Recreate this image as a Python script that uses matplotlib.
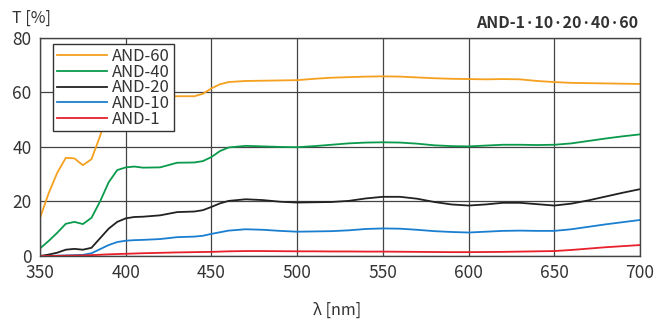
import matplotlib
matplotlib.use("Agg")
import matplotlib.pyplot as plt

plt.rcParams['font.family'] = ['Noto Sans CJK JP', 'DejaVu Sans']

wavelength = [350, 355, 360, 365, 370, 375, 380, 385, 390, 395, 400, 405, 410,
              420, 430, 440, 445, 450, 455, 460, 470, 480, 490, 500, 510, 520,
              530, 540, 550, 560, 570, 580, 590, 600, 610, 620, 630, 640, 650,
              660, 670, 680, 690, 700]

and60 = [14, 23, 30.5, 36, 35.8, 33.3, 35.5, 44, 54, 58, 58.8, 59, 58.8,
         58.7, 58.6, 58.6, 59.5, 61.5, 63, 63.8, 64.2, 64.3, 64.4, 64.5, 65, 65.4,
         65.6, 65.8, 65.9, 65.8, 65.5, 65.2, 65, 64.9, 64.8, 64.9, 64.8, 64.2, 63.8,
         63.5, 63.4, 63.3, 63.2, 63.1]
and40 = [2.8, 5.5, 8.5, 11.8, 12.5, 11.7, 14, 20, 27, 31.5, 32.5, 32.8, 32.4,
         32.5, 34.2, 34.3, 34.8, 36.3, 38.5, 39.8, 40.4, 40.2, 40, 39.9, 40.3, 40.8,
         41.3, 41.6, 41.7, 41.6, 41.2, 40.6, 40.3, 40.2, 40.5, 40.8, 40.8, 40.7, 40.8,
         41.3, 42.2, 43.1, 43.9, 44.6]
and20 = [0, 0.5, 1.2, 2.3, 2.6, 2.3, 3, 6.5, 10, 12.5, 13.8, 14.3, 14.4,
         14.9, 16.1, 16.3, 16.8, 18, 19.3, 20.2, 20.8, 20.5, 19.9, 19.6, 19.7, 19.8,
         20.2, 21.1, 21.7, 21.7, 21, 19.8, 18.9, 18.5, 18.9, 19.5, 19.5, 19, 18.5,
         19.2, 20.4, 21.8, 23.2, 24.5]
and10 = [0, 0, 0.1, 0.2, 0.3, 0.4, 1, 2.5, 4, 5.1, 5.6, 5.8, 5.9,
         6.2, 6.9, 7.1, 7.4, 8.1, 8.7, 9.3, 9.8, 9.6, 9.2, 8.9, 9, 9.1,
         9.4, 9.9, 10.1, 10, 9.6, 9.1, 8.8, 8.6, 8.9, 9.2, 9.3, 9.2, 9.2,
         9.8, 10.7, 11.6, 12.4, 13.2]
and1 = [0, 0, 0.05, 0.1, 0.15, 0.2, 0.3, 0.45, 0.6, 0.7, 0.8, 0.9, 1,
        1.15, 1.3, 1.4, 1.45, 1.5, 1.6, 1.7, 1.8, 1.8, 1.75, 1.7, 1.7, 1.65,
        1.65, 1.6, 1.6, 1.55, 1.5, 1.45, 1.4, 1.4, 1.45, 1.5, 1.6, 1.7, 1.8,
        2.2, 2.7, 3.2, 3.6, 4.0]

series = [
    ("AND-60", and60, "#f5a01e"),
    ("AND-40", and40, "#0a9a4c"),
    ("AND-20", and20, "#222222"),
    ("AND-10", and10, "#1a7fd0"),
    ("AND-1", and1, "#e8202a"),
]

fig = plt.figure(figsize=(6.68, 3.24), dpi=100)
ax = fig.add_axes([0.06, 0.21, 0.898, 0.673])

for name, vals, col in series:
    ax.plot(wavelength, vals, color=col, lw=1.3, label=name)

ax.set_xlim(350, 700)
ax.set_ylim(0, 80)
ax.set_xticks(range(350, 701, 50))
ax.set_yticks(range(0, 81, 20))
ax.grid(True, color="#444444", lw=0.9)
ax.set_axisbelow(True)
for s in ax.spines.values():
    s.set_color("#444444")
    s.set_linewidth(1.0)
ax.tick_params(length=0, labelsize=12.5, colors="#333333", pad=6)

leg = ax.legend(loc="upper left", bbox_to_anchor=(0.022, 0.97), fontsize=12,
                handlelength=3.0, labelspacing=-0.08, borderpad=0.22,
                handletextpad=0.3, fancybox=False, framealpha=1,
                edgecolor="#333333", borderaxespad=0)
leg.get_frame().set_linewidth(1.0)
for t in leg.get_texts():
    t.set_color("#333333")

fig.text(0.018, 0.945, "T [%]", fontsize=11.5, color="#333333", va="center")
fig.text(0.955, 0.93, "AND-1·10·20·40·60", fontsize=11.5, fontweight="bold",
         color="#333333", ha="right", va="center")
fig.text(0.505, 0.043, "λ [nm]", fontsize=11.5, color="#333333",
         ha="center", va="center")

fig.savefig("out.png", dpi=100)
